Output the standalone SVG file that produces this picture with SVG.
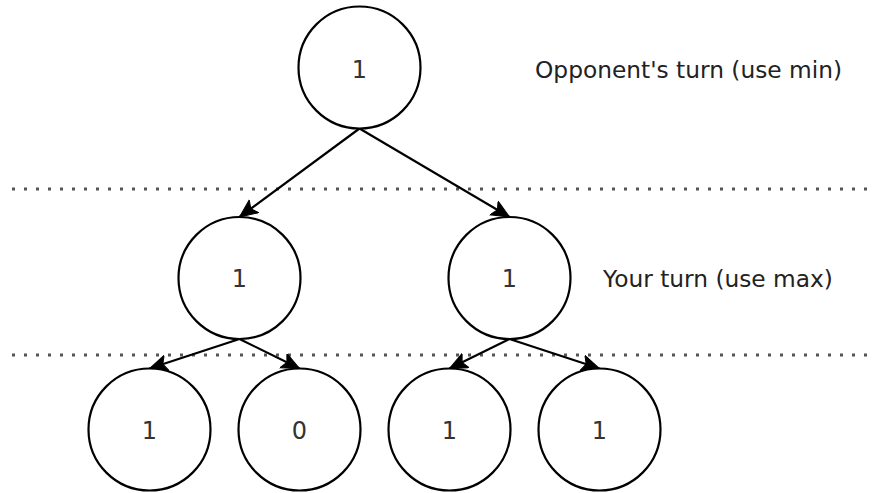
<svg xmlns="http://www.w3.org/2000/svg" width="875" height="493" viewBox="0 0 875 493">
  <style>
    .node circle { fill: #ffffff; stroke: #000000; stroke-width: 2.2; }
    .node text { font-family: "DejaVu Sans", "Liberation Sans", sans-serif; font-size: 24px; fill: #333333; text-anchor: middle; }
    .edge { fill: none; stroke: #000000; stroke-width: 2.2; marker-end: url(#arrow); }
    .divider { stroke: #555555; stroke-width: 3; stroke-dasharray: 3 9; }
    .label { font-family: "DejaVu Sans", "Liberation Sans", sans-serif; font-size: 23.3px; fill: #222222; }
  </style>
  <defs>
    <marker id="arrow" markerUnits="userSpaceOnUse" markerWidth="20" markerHeight="18" refX="18" refY="8" orient="auto">
      <path d="M0,0 L18,8 L0,16 L4,8 Z" fill="#000000" stroke="#000000" stroke-width="1"/>
    </marker>
  </defs>

  <!-- level separators -->
  <g id="separators">
    <line class="divider" x1="12" y1="189" x2="875" y2="189"/>
    <line class="divider" x1="12" y1="355" x2="875" y2="355"/>
  </g>

  <!-- connectors -->
  <g id="connectors">
    <line class="edge" x1="359.5" y1="128.5" x2="239.5" y2="217"/>
    <line class="edge" x1="359.5" y1="128.5" x2="509.5" y2="217"/>
    <line class="edge" x1="239.5" y1="339" x2="149.5" y2="368.5"/>
    <line class="edge" x1="239.5" y1="339" x2="299.5" y2="368.5"/>
    <line class="edge" x1="509.5" y1="339" x2="449.5" y2="368.5"/>
    <line class="edge" x1="509.5" y1="339" x2="599.5" y2="368.5"/>
  </g>

  <!-- nodes -->
  <g id="root" class="node">
    <circle cx="359.5" cy="67.5" r="61"/>
    <text x="359.5" y="77.5">1</text>
  </g>
  <g id="mid-left" class="node">
    <circle cx="239.5" cy="278" r="61"/>
    <text x="239.5" y="287">1</text>
  </g>
  <g id="mid-right" class="node">
    <circle cx="509.5" cy="278" r="61"/>
    <text x="509.5" y="287">1</text>
  </g>
  <g id="leaf-1" class="node">
    <circle cx="149.5" cy="429.5" r="61"/>
    <text x="149.5" y="438.5">1</text>
  </g>
  <g id="leaf-2" class="node">
    <circle cx="299.5" cy="429.5" r="61"/>
    <text x="299.5" y="438.5">0</text>
  </g>
  <g id="leaf-3" class="node">
    <circle cx="449.5" cy="429.5" r="61"/>
    <text x="449.5" y="438.5">1</text>
  </g>
  <g id="leaf-4" class="node">
    <circle cx="599.5" cy="429.5" r="61"/>
    <text x="599.5" y="438.5">1</text>
  </g>

  <!-- turn labels -->
  <g id="labels">
    <text class="label" x="535" y="78">Opponent's turn (use min)</text>
    <text class="label" x="603" y="286.5">Your turn (use max)</text>
  </g>
</svg>
